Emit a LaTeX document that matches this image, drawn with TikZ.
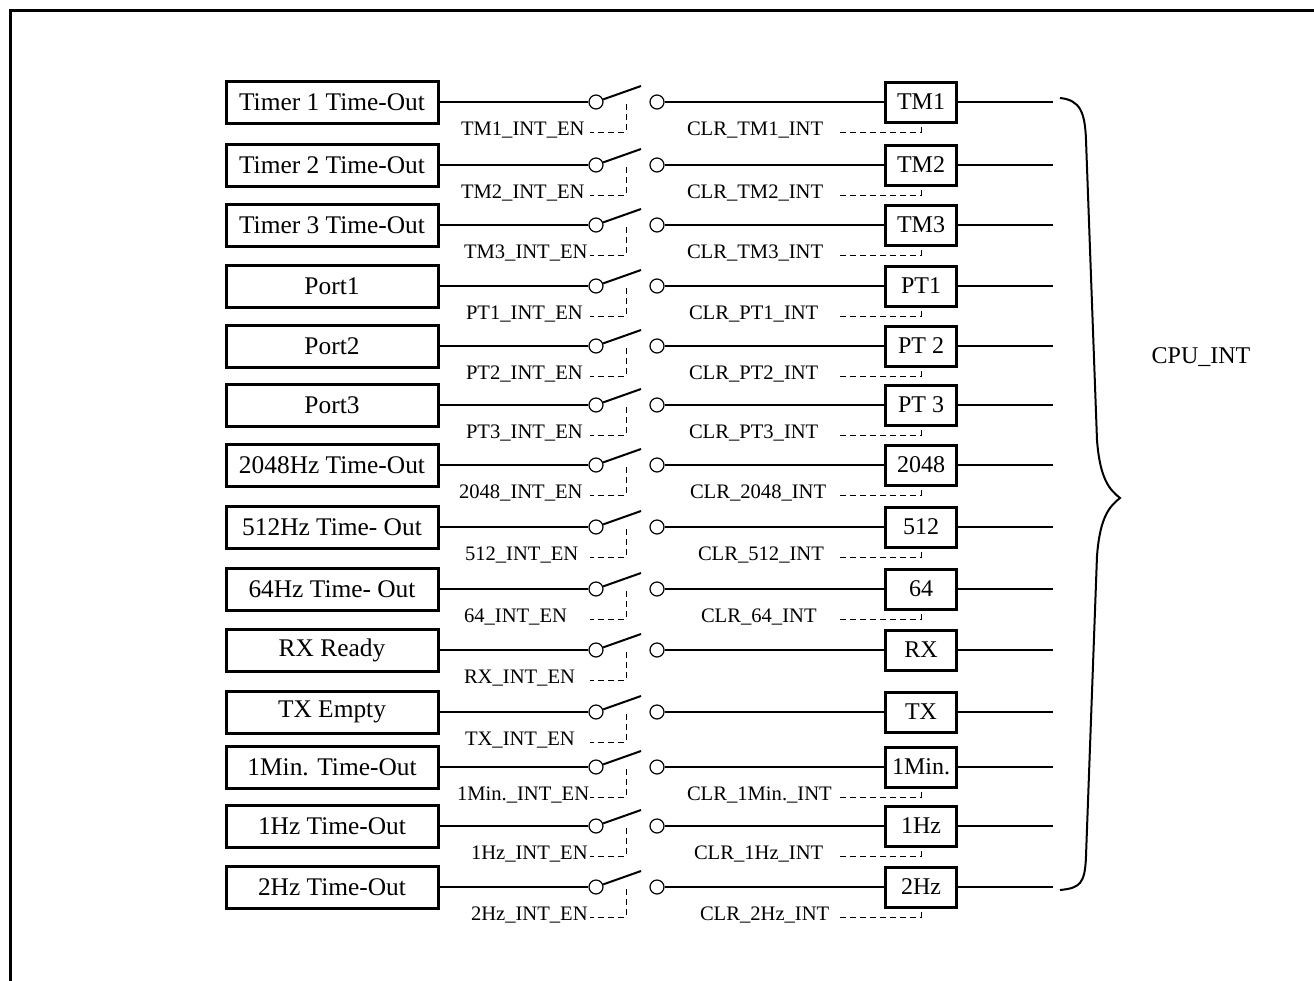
\documentclass[tikz,border=0pt]{standalone}
\usepackage{fontspec}
\setmainfont{Liberation Serif}
\usetikzlibrary{positioning}

\begin{document}
\begin{tikzpicture}[x=0.5pt,y=-0.5pt,line width=1pt,
    src/.style={draw,line width=1.5pt,minimum width=106pt,minimum height=21pt,
      inner sep=0pt,font=\fontsize{12.7}{14}\selectfont},
    flag/.style={draw,line width=1.5pt,minimum width=35.5pt,minimum height=20pt,
      inner sep=0pt,font=\fontsize{12}{14}\selectfont},
    pin/.style={circle,draw,line width=0.6pt,minimum size=7pt,inner sep=0pt},
    lbl/.style={font=\fontsize{10.3}{12}\selectfont,inner sep=0pt},
    ctl/.style={line width=0.5pt,dash pattern=on 3pt off 2pt}]
  \useasboundingbox (0,0) rectangle (1314,981);
  \draw[line width=1.5pt] (10,981) -- (10,10) -- (1314,10);

  \foreach \y/\src/\en/\enx/\flg/\clr/\clrx [count=\i] in {
      102/Timer 1 Time-Out/TM1\_INT\_EN/460/TM1/CLR\_TM1\_INT/686,
      165/Timer 2 Time-Out/TM2\_INT\_EN/460/TM2/CLR\_TM2\_INT/686,
      225/Timer 3 Time-Out/TM3\_INT\_EN/463/TM3/CLR\_TM3\_INT/686,
      286/Port1/PT1\_INT\_EN/465/PT1/CLR\_PT1\_INT/688,
      346/Port2/PT2\_INT\_EN/465/PT 2/CLR\_PT2\_INT/688,
      405/Port3/PT3\_INT\_EN/465/PT 3/CLR\_PT3\_INT/688,
      465/2048Hz Time-Out/2048\_INT\_EN/458/2048/CLR\_2048\_INT/689,
      527/512Hz Time- Out/512\_INT\_EN/464/512/CLR\_512\_INT/697,
      589/64Hz Time- Out/64\_INT\_EN/463/64/CLR\_64\_INT/700,
      650/RX Ready/RX\_INT\_EN/463/RX//0,
      712/TX Empty/TX\_INT\_EN/464/TX//0,
      767/1Min. Time-Out/1Min.\_INT\_EN/456/1Min./CLR\_1Min.\_INT/686,
      826/1Hz Time-Out/1Hz\_INT\_EN/470/1Hz/CLR\_1Hz\_INT/693,
      887/2Hz Time-Out/2Hz\_INT\_EN/470/2Hz/CLR\_2Hz\_INT/699} {
    \node[src] (s\i) at (332,\y) {\src};
    \node[pin] (a\i) at (596,\y) {};
    \node[pin] (b\i) at (657,\y) {};
    \node[flag] (f\i) at (921,\y) {\flg};
    \coordinate (t\i) at (641,\y-16);
    \coordinate (o\i) at (1053,\y);
    \coordinate (m\i) at (626,\y+2);
    \coordinate (d\i) at (590,\y+30);
    \node[lbl,anchor=base west] (e\i) at (\enx,\y+33) {\en};
    \draw (s\i) -- (a\i);
    \draw (a\i.20) -- (t\i);
    \draw (b\i) -- (f\i) -- (o\i);
    \draw[ctl] (m\i) |- (d\i);
    \ifx\clr\empty\else
      \coordinate (r\i) at (840,\y+30);
      \node[lbl,anchor=base west] (c\i) at (\clrx,\y+33) {\clr};
      \draw[ctl] (r\i) -| (f\i.south);
    \fi
  }

  % brace over all outputs
  \draw[line width=1pt] (1060,98) .. controls (1080,100) and (1085,112) .. (1086,140)
    -- (1097,440) .. controls (1100,480) and (1110,490) .. (1120,498)
    .. controls (1110,506) and (1100,516) .. (1097,556)
    -- (1086,856) .. controls (1085,884) and (1080,888) .. (1060,890);
  \node[font=\fontsize{12}{14}\selectfont] (cpu) at (1201,357) {CPU\_INT};
\end{tikzpicture}
\end{document}
